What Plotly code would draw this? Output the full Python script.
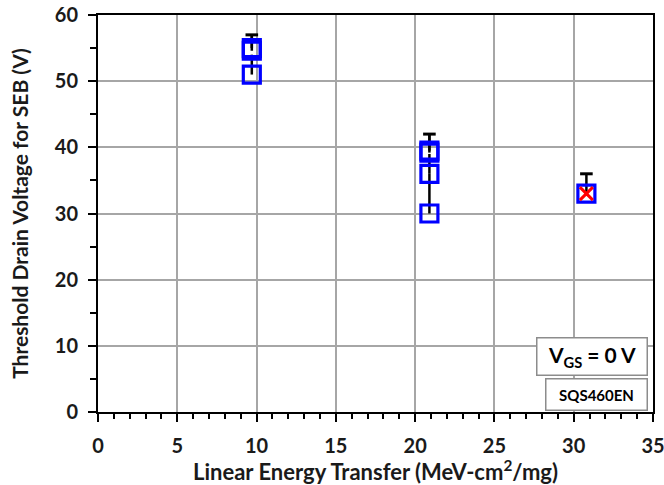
import plotly.graph_objects as go

# Threshold drain voltage for single-event burnout vs LET
let_a = [9.7, 9.7, 9.7]
vds_a = [55.0, 54.6, 51.0]
err_a = [2.0, 2.4, 3.0]

let_b = [20.9, 20.9, 20.9, 20.9]
vds_b = [39.5, 39.2, 36.0, 30.0]
err_b = [2.5, 2.8, 3.0, 6.0]

let_c = [30.8]
vds_c = [33.0]
err_c = [3.0]

# LET point where no burnout threshold was established
let_x = [30.8]
vds_x = [33.0]

FONT = "Lato"
BLUE = "#0000ff"

fig = go.Figure()

groups = [(let_a, vds_a, err_a), (let_b, vds_b, err_b), (let_c, vds_c, err_c)]

# upper-only error bars: stems as line segments, one cap at each group's top
stem_x, stem_y, cap_x, cap_y = [], [], [], []
for xs, ys, es in groups:
    tops = [y + e for y, e in zip(ys, es)]
    for x, y, t in zip(xs, ys, tops):
        stem_x += [x, x, None]
        stem_y += [y, t, None]
    cap_x.append(xs[0])
    cap_y.append(max(tops))

fig.add_trace(go.Scatter(
    x=stem_x, y=stem_y, mode="lines",
    line=dict(color="black", width=2.5),
    showlegend=False, cliponaxis=False, hoverinfo="skip",
))
fig.add_trace(go.Scatter(
    x=cap_x, y=cap_y, mode="markers",
    marker=dict(symbol="line-ew-open", size=9, color="black",
                line=dict(width=3, color="black")),
    showlegend=False, cliponaxis=False, hoverinfo="skip",
))

for xs, ys, es in groups:
    fig.add_trace(go.Scatter(
        x=xs, y=ys, mode="markers",
        marker=dict(symbol="square-open", size=17, color=BLUE,
                    line=dict(width=3.2, color=BLUE)),
        showlegend=False, cliponaxis=False,
    ))

fig.add_trace(go.Scatter(
    x=let_x, y=vds_x, mode="markers",
    marker=dict(symbol="x-thin-open", size=13, color="red",
                line=dict(width=3, color="red")),
    showlegend=False, cliponaxis=False,
))

fig.update_layout(
    width=664, height=485,
    margin=dict(l=98, r=11, t=15, b=73),
    plot_bgcolor="white", paper_bgcolor="white",
    font=dict(family=FONT, color="black"),
)

fig.update_xaxes(
    range=[0, 35], dtick=5, tick0=0, automargin=False,
    ticklabeloverflow="allow", ticklabelstandoff=7,
    showgrid=True, gridcolor="#a6a6a6", gridwidth=1.5,
    showline=True, linecolor="black", linewidth=2, mirror=True,
    ticks="outside", ticklen=8, tickwidth=2, tickcolor="black",
    minor=dict(dtick=1, ticks="outside", ticklen=5, tickwidth=1.5,
               tickcolor="black", showgrid=False),
    tickfont=dict(family=FONT, size=20, color="#1a1a1a", weight="bold"),
    title=dict(text="Linear Energy Transfer (MeV-cm<sup>2</sup>/mg)",
               font=dict(family=FONT, size=22, color="#1a1a1a", weight="bold"),
               standoff=11),
    zeroline=False,
)

fig.update_yaxes(
    range=[0, 60], dtick=10, tick0=0, automargin=False,
    ticklabeloverflow="allow", ticklabelstandoff=6,
    showgrid=True, gridcolor="#a6a6a6", gridwidth=1.5,
    showline=True, linecolor="black", linewidth=2, mirror=True,
    ticks="outside", ticklen=8, tickwidth=2, tickcolor="black",
    minor=dict(dtick=5, ticks="outside", ticklen=6, tickwidth=1.5,
               tickcolor="black", showgrid=False),
    tickfont=dict(family=FONT, size=20, color="#1a1a1a", weight="bold"),
    title=dict(text="Threshold Drain Voltage for SEB (V)",
               font=dict(family=FONT, size=21, color="#1a1a1a", weight="bold"),
               standoff=20),
    zeroline=False,
)

fig.add_annotation(
    xref="paper", yref="paper", x=0.991, y=0.141,
    xanchor="right", yanchor="middle",
    text="<b>V<sub>GS</sub> = 0 V</b>", showarrow=False,
    font=dict(family=FONT, size=21, color="black"),
    bgcolor="white", bordercolor="#8c8c8c", borderwidth=1.5,
    width=107, height=34,
)
fig.add_annotation(
    xref="paper", yref="paper", x=0.991, y=0.045,
    xanchor="right", yanchor="middle",
    text="<b>SQS460EN</b>", showarrow=False,
    font=dict(family=FONT, size=15, color="black"),
    bgcolor="white", bordercolor="#8c8c8c", borderwidth=1.5,
    width=98, height=28,
)

fig.write_html("out.html")
